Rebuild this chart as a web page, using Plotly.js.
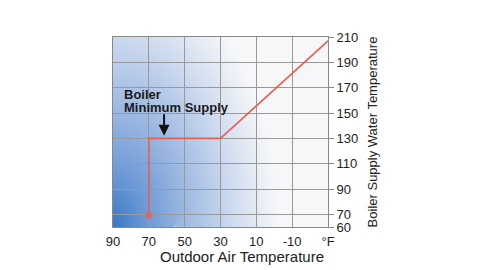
<!DOCTYPE html>
<html>
<head>
<meta charset="utf-8">
<script src="https://cdn.plot.ly/plotly-3.0.1.min.js"></script>
<style>
html,body{margin:0;padding:0;background:#fff;}
#chart{width:480px;height:270px;}
</style>
</head>
<body>
<div id="chart"></div>
<script>
// Data
var outdoorTemp = [70, 70, 30, -30];
var supplyTemp = [69, 130, 130, 207];
var xTickVals = [90, 70, 50, 30, 10, -10, -30];
var xTickText = ["90", "70", "50", "30", "10", "-10", "°F"];
var yTickVals = [60, 70, 90, 110, 130, 150, 170, 190, 210];
var yTickText = ["60", "70", "90", "110", "130", "150", "170", "190", "210"];
var labelLine1 = "Boiler";
var labelLine2 = "Minimum Supply";
var xTitle = "Outdoor Air Temperature";
var yTitle = "Boiler Supply Water Temperature";
var arrowPoint = {x: 61.5, y: 132};

// Background gradient image
var W = 215, H = 190;
var cv = document.createElement('canvas');
cv.width = W; cv.height = H;
var ctx = cv.getContext('2d');
ctx.fillStyle = '#f6f7f9';
ctx.fillRect(0, 0, W, H);
ctx.save();
ctx.translate(0, H);
ctx.scale(1, 1.6);
var g = ctx.createRadialGradient(0, 0, 0, 0, 0, 165);
g.addColorStop(0, '#3878c4');
g.addColorStop(0.18, '#6796d5');
g.addColorStop(0.4, '#94b3df');
g.addColorStop(0.7, '#c9d7ee');
g.addColorStop(0.88, '#e6ebf4');
g.addColorStop(1, '#f6f7f9');
ctx.fillStyle = g;
ctx.fillRect(0, -H, W, H);
ctx.restore();
// very faint fanning streaks
ctx.strokeStyle = 'rgba(255,255,255,0.07)';
ctx.lineWidth = 0.8;
for (var i = 0; i < 12; i++) {
  ctx.beginPath();
  ctx.moveTo(60, H);
  ctx.lineTo(W, 40 + i * 13);
  ctx.stroke();
}
var bgUrl = cv.toDataURL('image/png');

var trace = {
  x: outdoorTemp,
  y: supplyTemp,
  type: 'scatter',
  mode: 'lines+markers',
  line: {color: '#e8604c', width: 1.6},
  marker: {color: '#e8604c', size: [7, 0, 0, 0], line: {width: 0}},
  hoverinfo: 'skip'
};

var fontFam = '"Liberation Sans", Arial, Helvetica, sans-serif';

var layout = {
  width: 480, height: 270,
  margin: {l: 113, r: 152, t: 37, b: 43},
  paper_bgcolor: '#ffffff',
  plot_bgcolor: 'rgba(0,0,0,0)',
  showlegend: false,
  font: {family: fontFam, color: '#222', size: 13},
  xaxis: {
    range: [90, -30],
    tickvals: xTickVals,
    ticktext: xTickText,
    showgrid: true,
    gridcolor: '#999',
    gridwidth: 1,
    zeroline: false,
    showline: true,
    linecolor: '#888',
    mirror: true,
    ticks: 'outside',
    ticklen: 2,
    tickcolor: 'rgba(0,0,0,0)',
    tickfont: {size: 13, color: '#222'}
  },
  yaxis: {
    range: [60, 210],
    side: 'right',
    tickvals: yTickVals,
    ticktext: yTickText,
    showgrid: true,
    gridcolor: '#999',
    gridwidth: 1,
    zeroline: false,
    showline: true,
    linecolor: '#888',
    mirror: true,
    ticks: 'outside',
    ticklen: 5,
    tickcolor: '#888',
    tickfont: {size: 13, color: '#222'},
    title: {text: yTitle, font: {size: 13, color: '#222'}, standoff: 10}
  },
  images: [{
    source: bgUrl,
    xref: 'paper', yref: 'paper',
    x: 0, y: 1, sizex: 1, sizey: 1,
    xanchor: 'left', yanchor: 'top',
    sizing: 'stretch',
    layer: 'below'
  }],
  annotations: [
    {
      x: 84.5, y: 164.5, xref: 'x', yref: 'y',
      text: '<b>' + labelLine1 + '</b>',
      showarrow: false,
      xanchor: 'left', yanchor: 'middle',
      align: 'left', borderpad: 0,
      font: {size: 13, color: '#1a1a1a', family: fontFam}
    },
    {
      x: 84.5, y: 154.2, xref: 'x', yref: 'y',
      text: '<b>' + labelLine2 + '</b>',
      showarrow: false,
      xanchor: 'left', yanchor: 'middle',
      align: 'left', borderpad: 0,
      font: {size: 13, color: '#1a1a1a', family: fontFam}
    },
    {
      x: arrowPoint.x, y: arrowPoint.y, xref: 'x', yref: 'y',
      ax: 0, ay: -23,
      text: '',
      showarrow: true,
      arrowhead: 2,
      arrowsize: 1.1,
      arrowwidth: 2,
      arrowcolor: '#111'
    },
    {
      x: 0.6, y: -0.15, xref: 'paper', yref: 'paper',
      text: xTitle,
      showarrow: false,
      xanchor: 'center', yanchor: 'middle', borderpad: 0,
      font: {size: 15, color: '#222', family: fontFam}
    }
  ]
};
// place x title at pixel position (242, 256)
layout.annotations[3].x = (242 - 113) / (480 - 113 - 152);
layout.annotations[3].y = -(256 - 227) / (270 - 37 - 43);

Plotly.newPlot('chart', [trace], layout, {staticPlot: true, displayModeBar: false});
</script>
</body>
</html>
